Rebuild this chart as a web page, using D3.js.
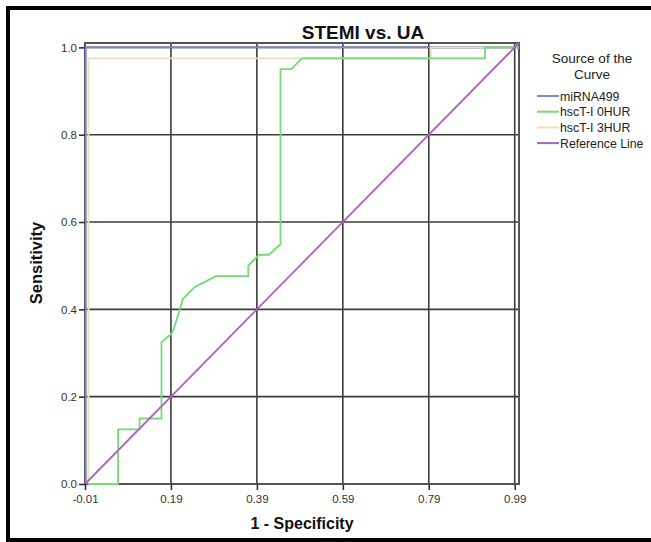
<!DOCTYPE html>
<html><head><meta charset="utf-8">
<script src="https://cdn.jsdelivr.net/npm/d3@7"></script>
<style>html,body{margin:0;padding:0;background:#fff;}svg{display:block;}</style>
</head><body>
<svg id="chart" width="651" height="542"></svg>
<script>
// ---- data ----
const xTickValues = [-0.01, 0.19, 0.39, 0.59, 0.79, 0.99];
const xTickLabels = ["-0.01", "0.19", "0.39", "0.59", "0.79", "0.99"];
const yTickValues = [0.0, 0.2, 0.4, 0.6, 0.8, 1.0];
const yTickLabels = ["0.0", "0.2", "0.4", "0.6", "0.8", "1.0"];
const seriesNames = ["miRNA499", "hscT-I 0HUR", "hscT-I 3HUR", "Reference Line"];

const miRNA499 = [[-0.008, 0], [-0.008, 1.0], [1.0, 1.0]];
const hscT0 = [[-0.002, 0], [0.067, 0], [0.067, 0.125], [0.117, 0.125], [0.117, 0.15], [0.168, 0.15],
  [0.168, 0.325], [0.191, 0.344], [0.197, 0.356], [0.218, 0.424], [0.245, 0.451], [0.295, 0.476],
  [0.370, 0.476], [0.370, 0.5], [0.395, 0.525], [0.418, 0.525], [0.445, 0.549], [0.445, 0.95],
  [0.470, 0.95], [0.495, 0.975], [0.921, 0.975], [0.921, 1.0], [1.0, 1.0]];
const hscT3 = [[-0.002, 0], [-0.002, 0.975], [0.795, 0.975], [0.795, 1.0], [1.0, 1.0]];
const refLine = [[-0.01, 0], [1.0, 1.01]];

const colors = {"miRNA499": "#7b8ad8", "hscT-I 0HUR": "#74da74", "hscT-I 3HUR": "#e9e1b8", "Reference Line": "#ad62bd"};

// ---- chart ----
const svg = d3.select("#chart");
const font = "'Liberation Sans', Arial, sans-serif";

// outer frame
svg.append("rect").attr("x", 8).attr("y", 8).attr("width", 660).attr("height", 532)
  .attr("fill", "none").attr("stroke", "#000").attr("stroke-width", 4);

const x = d3.scaleLinear().domain([-0.01, 1.0]).range([85, 519]);
const y = d3.scaleLinear().domain([0, 1.01]).range([484, 43]);

const g = svg.append("g");

// gridlines
g.selectAll(".vgrid").data(xTickValues).join("line")
  .attr("x1", d => x(d)).attr("x2", d => x(d)).attr("y1", y(0)).attr("y2", y(1.01))
  .attr("stroke", "#3c3c3c").attr("stroke-width", 1.6);
g.selectAll(".hgrid").data(yTickValues).join("line")
  .attr("x1", x(-0.01)).attr("x2", x(1.0)).attr("y1", d => y(d)).attr("y2", d => y(d))
  .attr("stroke", "#3c3c3c").attr("stroke-width", 1.6);

// plot frame
g.append("rect").attr("x", x(-0.01)).attr("y", y(1.01))
  .attr("width", x(1.0) - x(-0.01)).attr("height", y(0) - y(1.01))
  .attr("fill", "none").attr("stroke", "#555").attr("stroke-width", 2);

// curves
const line = d3.line().x(d => x(d[0])).y(d => y(d[1]));
const curves = [["miRNA499", miRNA499], ["hscT-I 3HUR", hscT3], ["hscT-I 0HUR", hscT0], ["Reference Line", refLine]];
curves.forEach(([name, pts]) => {
  g.append("path").datum(pts).attr("d", line).attr("fill", "none")
    .attr("stroke", colors[name]).attr("stroke-width", 1.8).attr("stroke-linejoin", "round");
});

// axes
const xAxis = d3.axisBottom(x).tickValues(xTickValues).tickFormat((d, i) => xTickLabels[i]).tickSize(6).tickSizeOuter(0);
const yAxis = d3.axisLeft(y).tickValues(yTickValues).tickFormat((d, i) => yTickLabels[i]).tickSize(6).tickSizeOuter(0);
const xa = svg.append("g").attr("transform", `translate(0,${y(0)})`).call(xAxis);
const ya = svg.append("g").attr("transform", `translate(${x(-0.01)},0)`).call(yAxis);
[xa, ya].forEach(a => {
  a.select(".domain").remove();
  a.selectAll(".tick line").attr("stroke", "#333").attr("stroke-width", 1.6);
  a.selectAll(".tick text").attr("fill", "#333").style("font-family", font).style("font-size", "11.5px");
});
xa.selectAll(".tick text").attr("dy", "0.9em");
ya.selectAll(".tick text").attr("x", -8);

// titles
svg.append("text").attr("x", 363).attr("y", 39).attr("text-anchor", "middle")
  .style("font-family", font).style("font-size", "19px").style("font-weight", "bold").attr("fill", "#111")
  .text("STEMI vs. UA");
svg.append("text").attr("x", 302).attr("y", 529).attr("text-anchor", "middle")
  .style("font-family", font).style("font-size", "16px").style("font-weight", "bold").attr("fill", "#111")
  .text("1 - Specificity");
svg.append("text").attr("transform", "translate(42,263) rotate(-90)").attr("text-anchor", "middle")
  .style("font-family", font).style("font-size", "16.5px").style("font-weight", "bold").attr("fill", "#111")
  .text("Sensitivity");

// legend
const lg = svg.append("g");
lg.append("text").attr("x", 592).attr("y", 63).attr("text-anchor", "middle")
  .style("font-family", font).style("font-size", "13.5px").attr("fill", "#222").text("Source of the");
lg.append("text").attr("x", 592).attr("y", 79).attr("text-anchor", "middle")
  .style("font-family", font).style("font-size", "13.5px").attr("fill", "#222").text("Curve");
seriesNames.forEach((name, i) => {
  const yy = 96 + i * 15.7;
  lg.append("line").attr("x1", 537).attr("x2", 559).attr("y1", yy).attr("y2", yy)
    .attr("stroke", colors[name]).attr("stroke-width", 2);
  lg.append("text").attr("x", 560).attr("y", yy + 4.5).style("font-family", font).style("font-size", "12.3px")
    .attr("fill", "#222").text(name);
});
</script>
</body></html>
